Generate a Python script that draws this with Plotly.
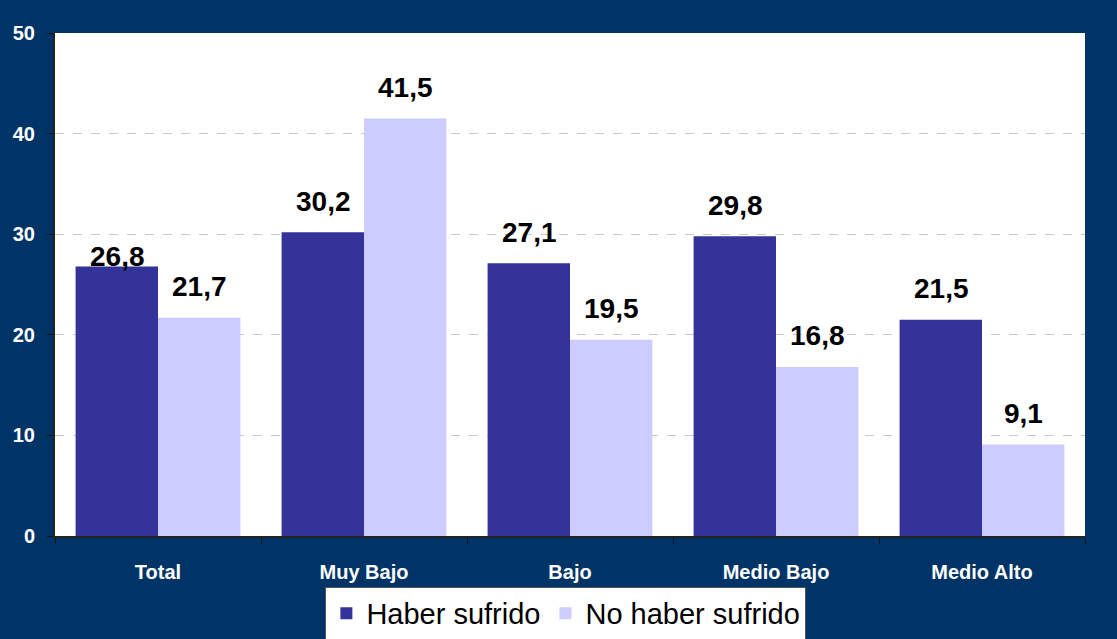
import plotly.graph_objects as go

categories = ["Total", "Muy Bajo", "Bajo", "Medio Bajo", "Medio Alto"]
haber_sufrido = [26.8, 30.2, 27.1, 29.8, 21.5]
no_haber_sufrido = [21.7, 41.5, 19.5, 16.8, 9.1]
y_ticks = [0, 10, 20, 30, 40, 50]

DARK = "#333399"
LIGHT = "#CCCCFF"
BG = "#003366"
FONT = "Liberation Sans, Arial"


def fmt(v):
    return f"{v:.1f}".replace(".", ",")


fig = go.Figure()
fig.add_trace(go.Bar(name="Haber sufrido", x=categories, y=haber_sufrido,
                     marker=dict(color=DARK, line=dict(width=0)), offsetgroup="a"))
fig.add_trace(go.Bar(name="No haber sufrido", x=categories, y=no_haber_sufrido,
                     marker=dict(color=LIGHT, line=dict(width=0)), offsetgroup="b"))

# value labels above each bar
annotations = []
for i, (cat, a, b) in enumerate(zip(categories, haber_sufrido, no_haber_sufrido)):
    for j, v in enumerate((a, b)):
        shift = 10 if (i == 0 and j == 0) else 31
        annotations.append(dict(
            x=cat, y=v, xref="x", yref="y", text=f"<b>{fmt(v)}</b>", showarrow=False,
            xshift=-41 if j == 0 else 41, yshift=shift, yanchor="middle",
            font=dict(family=FONT, size=28, color="black"),
        ))

fig.update_layout(
    width=1117, height=639,
    paper_bgcolor=BG, plot_bgcolor="white",
    margin=dict(l=55, r=32, t=33, b=103, autoexpand=False),
    barmode="group", bargap=0.2, bargroupgap=0,
    annotations=annotations,
    font=dict(family=FONT, color="white"),
    legend=dict(
        orientation="h", x=0.496, xanchor="center", y=-0.101, yanchor="top",
        bgcolor="white", bordercolor="#555555", borderwidth=1,
        font=dict(family=FONT, size=29, color="black"),
        itemsizing="constant", traceorder="normal",
    ),
)

fig.update_yaxes(
    range=[0, 50], tickvals=y_ticks, ticktext=[f"<b>{t}</b>" for t in y_ticks],
    tickfont=dict(size=20, color="white"),
    showgrid=True, gridcolor="#C8C8C8", griddash="dash", gridwidth=1,
    showline=True, linecolor="#222222", linewidth=2,
    ticks="outside", ticklen=6, tickcolor="#111111", ticklabelstandoff=8,
    zeroline=False,
)
fig.update_xaxes(
    tickvals=categories, ticktext=[f"<b>{c}</b>" for c in categories],
    tickfont=dict(size=20, color="white"),
    showline=True, linecolor="#222222", linewidth=2,
    ticks="outside", ticklen=6, tickcolor="#111111", tickson="boundaries",
    ticklabelstandoff=17,
)

fig.write_html("out.html")
